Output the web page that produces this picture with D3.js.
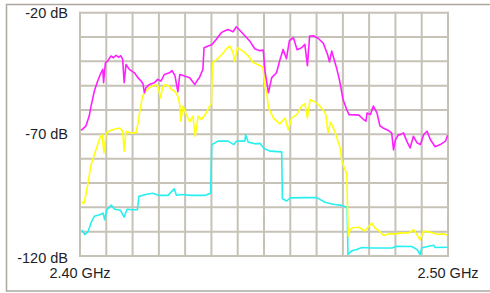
<!DOCTYPE html>
<html>
<head>
<meta charset="utf-8">
<script src="https://cdn.jsdelivr.net/npm/d3@7"></script>
<style>
  html, body { margin: 0; padding: 0; background: #fff; }
  svg { display: block; }
  .label { font-family: "Liberation Sans", Arial, sans-serif; font-size: 14.5px; fill: #1e1e28; }
</style>
</head>
<body>
<div id="chart"></div>
<script>
// frequency in MHz, level in dB
const magentaFreq = [2400.3, 2401.6, 2402.5, 2403.0, 2403.9, 2404.8, 2405.7, 2406.2, 2406.4, 2406.9, 2407.5, 2408.4, 2409.1, 2409.8, 2410.5, 2411.1, 2411.6, 2412.0, 2412.5, 2413.4, 2414.8, 2415.7, 2416.6, 2417.1, 2417.5, 2417.9, 2418.8, 2420.2, 2421.1, 2422.0, 2422.9, 2424.3, 2425.0, 2425.8, 2426.6, 2427.1, 2428.4, 2429.8, 2431.2, 2431.8, 2432.5, 2433.4, 2433.7, 2434.8, 2435.8, 2437.0, 2438.4, 2439.4, 2440.2, 2441.6, 2442.5, 2443.4, 2444.8, 2446.1, 2447.5, 2448.8, 2449.8, 2450.3, 2451.2, 2452.1, 2453.4, 2454.3, 2455.2, 2456.1, 2456.9, 2458.0, 2459.0, 2460.2, 2461.1, 2461.8, 2462.4, 2463.4, 2464.7, 2466.1, 2467.3, 2467.8, 2468.4, 2469.7, 2470.6, 2471.5, 2472.5, 2473.1, 2474.7, 2475.8, 2477.0, 2477.7, 2478.0, 2478.9, 2479.7, 2480.7, 2481.5, 2482.4, 2483.8, 2484.7, 2485.2, 2485.7, 2486.5, 2487.0, 2487.9, 2488.8, 2489.7, 2490.6, 2491.6, 2492.5, 2493.4, 2494.3, 2495.2, 2496.5, 2497.9, 2499.3, 2499.9];
const magentaLevel = [-68.4, -66.6, -62.5, -58.4, -52.2, -48.1, -44.7, -43.3, -48.8, -40.6, -39.9, -37.8, -38.5, -37.5, -38.3, -37.7, -39.2, -48.8, -41.3, -43.3, -44.7, -46.7, -48.1, -49.2, -52.9, -50.9, -49.5, -48.8, -47.4, -48.1, -45.4, -44.7, -43.8, -45.9, -52.5, -45.4, -46.0, -46.7, -49.5, -48.0, -46.5, -43.3, -34.4, -33.7, -33.2, -31.0, -28.2, -27.4, -26.9, -27.8, -25.8, -27.2, -29.5, -31.6, -34.8, -35.6, -35.4, -44.3, -52.9, -46.7, -44.7, -39.5, -35.1, -38.9, -31.5, -30.3, -35.2, -34.4, -33.0, -41.8, -29.6, -29.5, -30.5, -32.5, -37.3, -40.2, -35.8, -42.6, -48.3, -55.8, -59.9, -61.9, -62.0, -62.1, -63.8, -64.6, -61.2, -61.9, -58.4, -61.2, -66.5, -67.4, -68.4, -69.5, -76.4, -72.3, -70.2, -70.1, -69.4, -72.8, -75.6, -70.8, -73.5, -74.2, -70.1, -68.7, -72.1, -75.1, -74.2, -72.8, -70.4];

const yellowFreq = [2400.4, 2401.0, 2401.6, 2402.4, 2403.0, 2403.9, 2404.8, 2405.4, 2406.0, 2406.5, 2407.1, 2408.0, 2409.3, 2410.7, 2411.6, 2412.0, 2412.5, 2413.9, 2415.2, 2415.7, 2416.1, 2416.6, 2417.0, 2417.9, 2418.8, 2420.2, 2421.1, 2421.9, 2422.4, 2423.1, 2424.3, 2424.8, 2425.7, 2426.6, 2427.1, 2427.4, 2428.0, 2428.9, 2429.8, 2430.7, 2431.3, 2432.1, 2433.0, 2434.3, 2435.2, 2435.7, 2436.0, 2437.1, 2438.5, 2439.8, 2440.7, 2441.6, 2442.0, 2442.8, 2444.3, 2445.7, 2447.0, 2448.4, 2449.7, 2450.3, 2450.7, 2451.2, 2452.5, 2454.3, 2455.7, 2456.6, 2457.5, 2458.9, 2460.2, 2461.1, 2461.8, 2462.5, 2463.9, 2465.2, 2466.3, 2466.8, 2467.4, 2468.1, 2469.3, 2470.7, 2471.1, 2472.0, 2472.5, 2472.7, 2472.9, 2473.4, 2473.9, 2475.7, 2477.0, 2477.5, 2478.3, 2479.3, 2480.2, 2481.0, 2482.5, 2483.9, 2485.7, 2487.5, 2489.3, 2490.7, 2491.5, 2492.4, 2493.3, 2494.8, 2495.7, 2497.0, 2498.8, 2499.9];
const yellowLevel = [-97.6, -98.5, -94.9, -88.0, -82.6, -78.3, -74.3, -71.4, -70.1, -77.6, -69.4, -68.6, -67.9, -67.4, -68.7, -76.9, -68.7, -69.4, -69.4, -66.0, -61.9, -57.7, -54.3, -52.2, -50.9, -49.8, -49.8, -55.0, -50.9, -49.6, -50.2, -51.6, -52.2, -54.3, -57.7, -64.6, -58.4, -61.9, -64.9, -62.5, -70.8, -62.5, -63.9, -61.2, -58.4, -57.7, -40.6, -39.3, -37.3, -34.8, -33.7, -36.5, -39.9, -34.4, -35.8, -37.8, -40.4, -41.4, -42.4, -50.9, -52.5, -58.9, -63.2, -65.7, -63.3, -68.1, -63.3, -61.9, -58.4, -57.4, -63.3, -55.7, -56.7, -58.4, -60.5, -61.9, -69.4, -65.0, -69.1, -75.6, -80.5, -84.6, -86.1, -100.4, -111.8, -109.3, -108.5, -108.2, -109.3, -109.7, -108.1, -106.5, -108.6, -109.3, -111.6, -110.9, -110.9, -110.5, -110.5, -109.2, -111.1, -113.4, -109.8, -110.1, -110.4, -111.1, -110.9, -111.5];

const cyanFreq = [2400.5, 2401.3, 2402.2, 2403.1, 2403.9, 2405.3, 2406.3, 2406.7, 2407.3, 2408.5, 2409.4, 2411.0, 2412.0, 2412.8, 2414.1, 2415.6, 2416.0, 2417.8, 2419.8, 2421.5, 2423.9, 2425.6, 2426.2, 2427.4, 2430.4, 2433.9, 2435.5, 2435.8, 2437.5, 2440.2, 2441.8, 2442.5, 2444.8, 2445.0, 2445.7, 2447.6, 2448.9, 2450.0, 2451.6, 2454.8, 2455.0, 2456.2, 2457.1, 2461.4, 2464.3, 2466.6, 2468.8, 2471.1, 2472.6, 2472.8, 2473.8, 2475.0, 2476.6, 2479.3, 2482.1, 2484.8, 2486.1, 2490.2, 2491.7, 2492.4, 2492.9, 2496.1, 2496.5, 2499.9];
const cyanLevel = [-109.3, -111.2, -109.9, -106.0, -103.7, -103.0, -102.4, -105.1, -101.0, -99.1, -100.8, -101.2, -104.0, -100.8, -101.0, -101.0, -95.5, -94.7, -94.2, -95.1, -95.1, -92.4, -95.0, -94.7, -95.1, -95.1, -94.2, -74.3, -72.8, -72.8, -74.2, -72.8, -72.8, -70.1, -73.2, -73.9, -73.7, -75.8, -76.9, -77.2, -96.5, -97.4, -96.1, -96.0, -96.0, -97.9, -98.7, -99.2, -100.0, -119.4, -117.9, -117.4, -116.5, -116.7, -116.7, -116.7, -116.0, -116.1, -117.5, -119.4, -116.6, -115.6, -116.5, -116.4];

const yTickValues = [-20, -70, -120];
const yTickLabels = ["-20 dB", "-70 dB", "-120 dB"];
const xTickValues = [2400, 2500];
const xTickLabels = ["2.40 GHz", "2.50 GHz"];

const width = 490, height = 293;
const plot = { left: 80, right: 448, top: 12.7, bottom: 256 };
const gridCols = 14, gridRows = 10;

const svg = d3.select("#chart")
    .append("svg")
    .attr("width", width)
    .attr("height", height);

// outer frame (right side runs off the picture)
svg.append("rect")
    .attr("x", 6.5)
    .attr("y", 4.5)
    .attr("width", 520)
    .attr("height", 286.5)
    .attr("fill", "none")
    .attr("stroke", "#aca89e")
    .attr("stroke-width", 1.5);

const x = d3.scaleLinear().domain([2400, 2500]).range([plot.left, plot.right]);
const y = d3.scaleLinear().domain([-120, -20]).range([plot.bottom, plot.top]);

// grid
const xGrid = d3.range(gridCols + 1).map(i => 2400 + i * 100 / gridCols);
const yGrid = d3.range(gridRows + 1).map(i => -120 + i * 100 / gridRows);

svg.selectAll(".vgrid")
    .data(xGrid)
    .enter()
    .append("line")
    .attr("class", "vgrid")
    .attr("x1", d => x(d)).attr("x2", d => x(d))
    .attr("y1", plot.top - 1).attr("y2", plot.bottom + 1)
    .attr("stroke", "#c6c2b7")
    .attr("stroke-width", 2);

svg.selectAll(".hgrid")
    .data(yGrid)
    .enter()
    .append("line")
    .attr("class", "hgrid")
    .attr("x1", plot.left - 1).attr("x2", plot.right + 1)
    .attr("y1", d => y(d)).attr("y2", d => y(d))
    .attr("stroke", "#c6c2b7")
    .attr("stroke-width", 2);

// traces
const line = d3.line()
    .x(d => x(d[0]))
    .y(d => y(d[1]));

const traces = [
    { freq: cyanFreq, level: cyanLevel, color: "#28f0f0" },
    { freq: yellowFreq, level: yellowLevel, color: "#ffff10" },
    { freq: magentaFreq, level: magentaLevel, color: "#ff20ff" }
];

svg.selectAll(".trace")
    .data(traces)
    .enter()
    .append("path")
    .attr("class", "trace")
    .attr("d", t => line(t.freq.map((f, i) => [f, t.level[i]])))
    .attr("fill", "none")
    .attr("stroke", t => t.color)
    .attr("stroke-width", 1.6)
    .attr("stroke-linejoin", "round");

// labels
svg.selectAll(".ylabel")
    .data(yTickValues)
    .enter()
    .append("text")
    .attr("class", "label ylabel")
    .attr("x", 68)
    .attr("y", (d, i) => y(d) + (i === 2 ? 2 : 0))
    .attr("text-anchor", "end")
    .attr("dominant-baseline", "central")
    .text((d, i) => yTickLabels[i]);

svg.selectAll(".xlabel")
    .data(xTickValues)
    .enter()
    .append("text")
    .attr("class", "label xlabel")
    .attr("x", d => x(d))
    .attr("y", 273)
    .attr("text-anchor", "middle")
    .attr("dominant-baseline", "central")
    .text((d, i) => xTickLabels[i]);
</script>
</body>
</html>
